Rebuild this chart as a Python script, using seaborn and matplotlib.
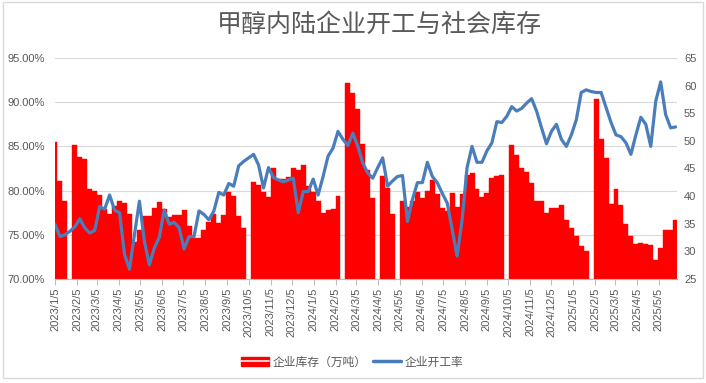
import numpy as np
import pandas as pd
import matplotlib
matplotlib.use("Agg")
import matplotlib.pyplot as plt
from matplotlib.patches import Patch, Rectangle
from matplotlib.lines import Line2D
import seaborn as sns

# weekly data, first week 2023/1/5; None = no data that week (holidays)
start_date = "2023-01-05"

# 企业库存（万吨） - bars, right axis
inventory = [
    49.8, 42.8, 39.1, None, 49.2, 47.1, 46.8, 41.3, 41.0, 40.2,
    37.6, 36.7, 38.3, 39.1, 38.8, 36.8, 31.7, 33.8, 36.4, 36.4,
    37.8, 38.9, 37.6, 36.2, 36.5, 36.5, 37.5, 34.6, 32.4, 32.4,
    33.8, 35.4, 36.8, 35.1, 36.5, 40.7, 40.0, 36.4, 34.3, None,
    42.6, 42.0, 40.8, 39.9, 45.0, 43.1, 43.1, 43.4, 45.0, 44.7,
    45.6, 41.8, 40.8, 39.1, 37.0, 37.5, 37.6, 40.0, None, 60.4,
    58.6, 55.7, 49.5, 44.8, 39.6, None, 43.7, 41.5, 36.8, None,
    39.2, 38.1, 39.2, 40.8, 39.6, 41.0, 42.9, 40.4, 37.8, 37.3,
    40.5, 38.1, 40.4, 43.9, 44.2, 41.3, 39.9, 40.5, 43.2, 43.7,
    43.9, None, 49.3, 47.4, 45.0, 44.4, 42.4, 39.2, 39.1, 37.0,
    37.8, 37.8, 38.4, 35.7, 34.3, 32.7, 30.9, 30.0, None, 57.6,
    50.3, 46.9, 38.6, 41.2, 38.4, 34.9, 32.8, 31.4, 31.6, 31.4,
    31.1, 28.5, 30.6, 33.8, 33.8, 35.7,
]

# 企业开工率（%） - line, left axis
run_rate = [
    76.2, 74.8, 75.0, 75.4, 75.9, 76.8, 75.8, 75.2, 75.5, 78.2,
    77.9, 79.5, 77.8, 77.5, 72.8, 71.1, 75.0, 78.8, 74.3, 71.6,
    73.5, 74.7, 77.8, 76.2, 76.4, 75.8, 73.4, 74.8, 74.8, 77.7,
    77.3, 76.7, 77.7, 79.8, 79.5, 80.8, 80.5, 82.8, 83.3, 83.7,
    84.1, 82.9, 80.3, 82.6, 81.5, 81.2, 81.0, 81.2, 81.4, 77.5,
    79.9, 79.9, 81.3, 79.5, 81.6, 83.9, 84.8, 86.7, 85.8, 85.1,
    86.5, 85.0, 83.1, 82.0, 81.4, 82.6, 83.7, 80.5, 81.1, 81.6,
    81.7, 76.5, 79.0, 80.9, 80.9, 83.2, 81.6, 80.9, 79.7, 78.6,
    75.6, 72.6, 76.7, 82.6, 85.0, 83.2, 83.2, 84.5, 85.4, 87.8,
    87.7, 88.4, 89.5, 89.0, 89.3, 89.9, 90.4, 89.0, 87.1, 85.3,
    86.7, 87.5, 85.8, 85.0, 86.3, 88.0, 91.1, 91.4, 91.2, 91.1,
    91.1, 89.4, 87.7, 86.3, 86.1, 85.4, 84.1, 86.3, 88.3, 87.5,
    85.0, 90.1, 92.3, 88.6, 87.1, 87.2,
]

pct_ticks = [70, 75, 80, 85, 90, 95]
inv_ticks = [25, 30, 35, 40, 45, 50, 55, 60, 65]
tick_dates = pd.date_range("2023-01-01", "2025-05-01", freq="MS") + pd.Timedelta(days=4)
tick_labels = [f"{d.year}/{d.month}/{d.day}" for d in tick_dates]

title = "甲醇内陆企业开工与社会库存"
bar_label = "企业库存（万吨）"
line_label = "企业开工率"

bar_color = "#FF0000"
line_color = "#4A7EBB"
text_color = "#595959"
grid_color = "#D9D9D9"

dates = pd.date_range(start_date, periods=len(run_rate), freq="7D")
df = pd.DataFrame({
    "date": dates,
    "inventory": pd.array(inventory, dtype="Float64").astype(float),
    "rate": run_rate,
})

sns.set_style("white")
plt.rcParams["font.family"] = ["Liberation Sans", "Noto Sans CJK SC", "DejaVu Sans"]

fig = plt.figure(figsize=(7.06, 3.83), dpi=100)
ax_bar = fig.add_axes([55 / 706, 1 - 279 / 383, 622 / 706, 221 / 383])
ax_line = ax_bar.twinx()

# bars (right axis)
bars = df.dropna(subset=["inventory"])
ax_bar.bar(bars["date"], bars["inventory"], width=7, color=bar_color,
           edgecolor=bar_color, linewidth=0.3, zorder=2)
ax_bar.set_ylim(inv_ticks[0], inv_ticks[-1])
ax_bar.set_yticks(inv_ticks)
ax_bar.yaxis.tick_right()

# horizontal grid lines follow the left (percent) axis
for p in pct_ticks[1:]:
    g = inv_ticks[0] + (p - pct_ticks[0]) / (pct_ticks[-1] - pct_ticks[0]) * (inv_ticks[-1] - inv_ticks[0])
    ax_bar.axhline(g, color=grid_color, lw=0.8, zorder=0)

# line (left axis)
sns.lineplot(data=df, x="date", y="rate", ax=ax_line, color=line_color, lw=2.3)
ax_line.set_ylim(pct_ticks[0], pct_ticks[-1])
ax_line.set_yticks(pct_ticks)
ax_line.set_yticklabels([f"{p:.2f}%" for p in pct_ticks])
ax_line.yaxis.tick_left()
ax_line.set_xlabel("")
ax_line.set_ylabel("")
ax_bar.set_xlabel("")
ax_bar.set_ylabel("")

ax_bar.set_xlim(pd.Timestamp("2023-01-05"), pd.Timestamp("2025-05-31"))
ax_bar.set_xticks(tick_dates)
ax_bar.set_xticklabels(tick_labels, rotation=90)

for a in (ax_bar, ax_line):
    for s in a.spines.values():
        s.set_visible(False)
ax_bar.spines["bottom"].set_visible(True)
ax_bar.spines["bottom"].set_color("#BFBFBF")
ax_bar.spines["bottom"].set_linewidth(0.8)

ax_bar.tick_params(axis="x", direction="out", length=4, width=0.8, color="#BFBFBF",
                   labelcolor=text_color, labelsize=8, pad=2, bottom=True)
ax_bar.tick_params(axis="y", length=0, labelcolor=text_color, labelsize=8, pad=5)
ax_line.tick_params(axis="y", length=0, labelcolor=text_color, labelsize=8, pad=7)

fig.text(379 / 706, 1 - 25 / 383, title, ha="center", va="center",
         fontsize=18, color=text_color, family=["Noto Sans CJK SC"])

handles = [(Patch(facecolor=bar_color, edgecolor=bar_color),
            Line2D([], [], color="#F2F2F2", lw=1.2)),
           Line2D([], [], color=line_color, lw=2.5)]
fig.legend(handles, [bar_label, line_label], loc="center", ncol=2,
           bbox_to_anchor=(352 / 706, 1 - 362 / 383), frameon=False,
           prop={"family": ["Noto Sans CJK SC"], "size": 8.5},
           labelcolor=text_color, handlelength=2.4, handletextpad=0.3,
           columnspacing=0.5)

fig.add_artist(Rectangle((3 / 706, 5 / 383), 700 / 706, 376 / 383,
                         transform=fig.transFigure, fill=False,
                         edgecolor=grid_color, lw=1))

fig.savefig("out.png", dpi=100)
